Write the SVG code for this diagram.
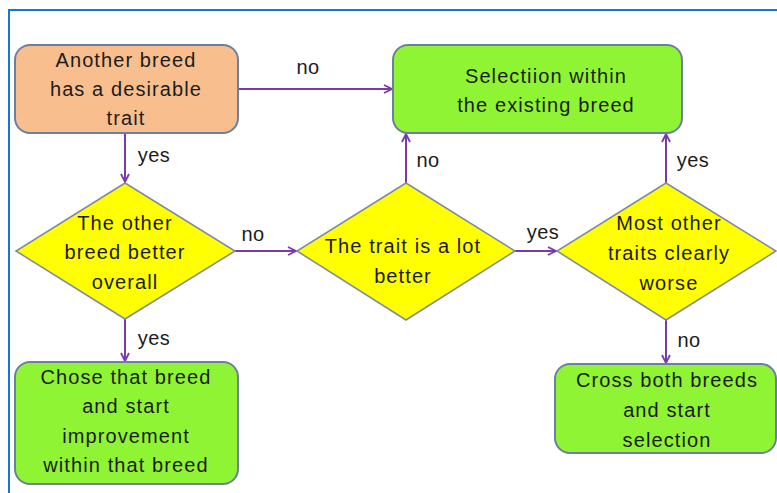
<svg xmlns="http://www.w3.org/2000/svg" width="777" height="493" viewBox="0 0 777 493">
<style>
.t{font-family:"Liberation Sans",Arial,sans-serif;font-size:20px;fill:#1c1c1c;text-anchor:middle;letter-spacing:1.1px}
.l{font-family:"Liberation Sans",Arial,sans-serif;font-size:20px;fill:#1c1c1c;text-anchor:middle;letter-spacing:0.5px}
.orange{fill:#F8BE8E;stroke:#6D7F9E;stroke-width:2}
.green{fill:#8FF433;stroke:#6D7F9E;stroke-width:2}
.dia{fill:#FFFF00;stroke:#7C8BA0;stroke-width:1.5}
.c{fill:none;stroke:#7A3AAE;stroke-width:2;marker-end:url(#ah)}
</style>
<defs>
<marker id="ah" markerWidth="12" markerHeight="12" refX="9" refY="5" orient="auto" markerUnits="userSpaceOnUse">
<path d="M1,1 L9,5 L1,9" fill="none" stroke="#7A3AAE" stroke-width="1.8"/>
</marker>
</defs>
<rect width="777" height="493" fill="#fff"/>
<path d="M9,493 L9,10 L777,10" fill="none" stroke="#1577CF" stroke-width="2"/>
<g id="connectors">
<line class="c" x1="238" y1="89" x2="392" y2="89"/>
<line class="c" x1="125" y1="134" x2="125" y2="182"/>
<line class="c" x1="235" y1="251" x2="296" y2="251"/>
<line class="c" x1="125" y1="319" x2="125" y2="361"/>
<line class="c" x1="406" y1="183" x2="406" y2="134"/>
<line class="c" x1="515" y1="251" x2="556" y2="251"/>
<line class="c" x1="666" y1="183" x2="666" y2="134"/>
<line class="c" x1="666" y1="320" x2="666" y2="363"/>
<text class="l" x="308" y="74">no</text>
<text class="l" x="154" y="162">yes</text>
<text class="l" x="253" y="241">no</text>
<text class="l" x="154" y="345">yes</text>
<text class="l" x="428" y="167">no</text>
<text class="l" x="543" y="239">yes</text>
<text class="l" x="693" y="167">yes</text>
<text class="l" x="689" y="347">no</text>
</g>
<g id="n1">
<rect class="orange" x="15" y="45" width="223" height="88" rx="15"/>
<text class="t" x="126" y="67">Another breed</text>
<text class="t" x="126" y="96">has a desirable</text>
<text class="t" x="126" y="125">trait</text>
</g>
<g id="n2">
<rect class="green" x="393" y="45" width="289" height="88" rx="15"/>
<text class="t" x="546" y="83">Selectiion within</text>
<text class="t" x="546" y="112">the existing breed</text>
</g>
<g id="n3">
<polygon class="dia" points="125,183 235,251 125,319 16,251"/>
<text class="t" x="125" y="230">The other</text>
<text class="t" x="125" y="259">breed better</text>
<text class="t" x="125" y="289">overall</text>
</g>
<g id="n4">
<polygon class="dia" points="406,183 515,251 406,320 297,251"/>
<text class="t" x="403" y="253">The trait is a lot</text>
<text class="t" x="403" y="283">better</text>
</g>
<g id="n5">
<polygon class="dia" points="666,183 776,251 666,320 557,251"/>
<text class="t" x="669" y="230">Most other</text>
<text class="t" x="669" y="260">traits clearly</text>
<text class="t" x="669" y="290">worse</text>
</g>
<g id="n6">
<rect class="green" x="15" y="362" width="223" height="122" rx="15"/>
<text class="t" x="126" y="384">Chose that breed</text>
<text class="t" x="126" y="413">and start</text>
<text class="t" x="126" y="443">improvement</text>
<text class="t" x="126" y="472">within that breed</text>
</g>
<g id="n7">
<rect class="green" x="555" y="364" width="221" height="89" rx="15"/>
<text class="t" x="667" y="387">Cross both breeds</text>
<text class="t" x="667" y="417">and start</text>
<text class="t" x="667" y="447">selection</text>
</g>
</svg>
